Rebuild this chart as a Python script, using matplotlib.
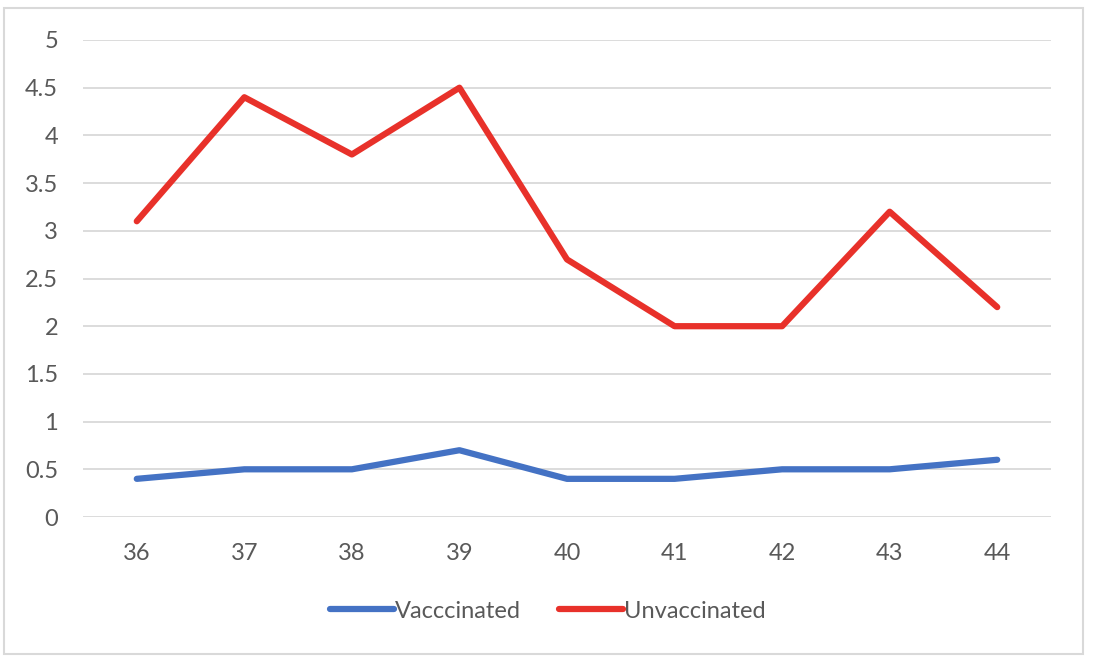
import matplotlib
matplotlib.use('Agg')
import matplotlib.pyplot as plt
from matplotlib.patches import Rectangle

weeks = ['36', '37', '38', '39', '40', '41', '42', '43', '44']
vaccinated = [0.4, 0.5, 0.5, 0.7, 0.4, 0.4, 0.5, 0.5, 0.6]
unvaccinated = [3.1, 4.4, 3.8, 4.5, 2.7, 2.0, 2.0, 3.2, 2.2]
y_ticks = [0, 0.5, 1, 1.5, 2, 2.5, 3, 3.5, 4, 4.5, 5]
y_labels = ['0', '0.5', '1', '1.5', '2', '2.5', '3', '3.5', '4', '4.5', '5']

plt.rcParams['font.family'] = ['Lato', 'DejaVu Sans']

fig = plt.figure(figsize=(10.94, 6.62), dpi=100)
ax = fig.add_axes([83/1094, 1 - 517/662, (1051 - 83)/1094, (517 - 40)/662])

# outer chart border
fig.patches.append(Rectangle((4/1094, 8/662), 1079/1094, 646/662, transform=fig.transFigure,
                             fill=False, edgecolor='#D9D9D9', linewidth=1.5))

x = range(len(weeks))
ax.plot(x, vaccinated, color='#4472C4', linewidth=4.5, solid_capstyle='round',
        solid_joinstyle='round', label='Vacccinated')
ax.plot(x, unvaccinated, color='#E8312A', linewidth=4.5, solid_capstyle='round',
        solid_joinstyle='round', label='Unvaccinated')

ax.set_xlim(-0.5, len(weeks) - 0.5)
ax.set_ylim(0, 5)
ax.set_xticks(list(x))
ax.set_xticklabels(weeks)
ax.set_yticks(y_ticks)
ax.set_yticklabels(y_labels)
ax.grid(axis='y', color='#D9D9D9', linewidth=1.3)
ax.set_axisbelow(True)
for s in ax.spines.values():
    s.set_visible(False)
ax.tick_params(length=0, labelsize=17, colors='#595959')
ax.tick_params(axis='x', pad=18.5)
ax.tick_params(axis='y', pad=18)

fig.legend(loc='center', bbox_to_anchor=(548/1094, 1 - 611/662), ncol=2, frameon=False,
           fontsize=17, labelcolor='#595959', handlelength=2.7, handletextpad=0.05,
           columnspacing=1.6)

plt.savefig('out.png', dpi=100)
